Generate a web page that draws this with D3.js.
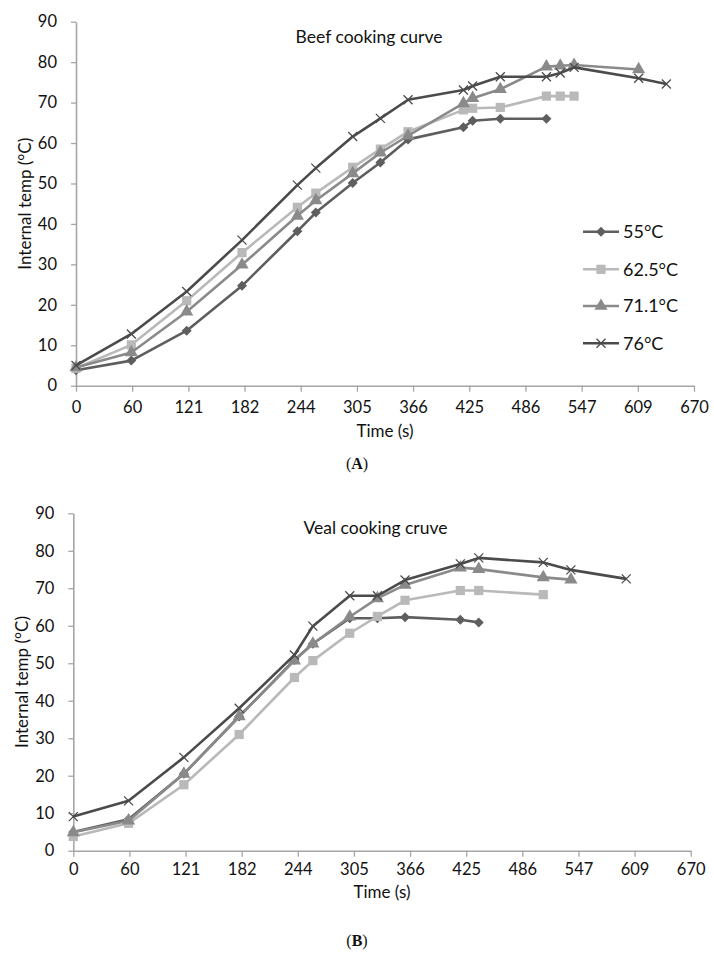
<!DOCTYPE html>
<html><head><meta charset="utf-8">
<script src="https://cdn.jsdelivr.net/npm/d3@7"></script>
<style>
html,body{margin:0;padding:0;background:#fff;}
svg{display:block;}
text{font-family:Lato,"Open Sans",sans-serif;fill:#111;}
</style></head>
<body>
<svg id="c" width="714" height="959"></svg>
<script>
// ---- Data ----
const seriesNames = ["55°C", "62.5°C", "71.1°C", "76°C"];
const xTickLabels = [0, 60, 121, 182, 244, 305, 366, 425, 486, 547, 609, 670];
const yTickLabels = [0, 10, 20, 30, 40, 50, 60, 70, 80, 90];

// Beef (A)
const beefTime55 = [0,60,120,180,240,260,300,330,360,420,430,460,510];
const beefTemp55 = [3.8,6.2,13.6,24.7,38.2,42.8,50.1,55.2,60.9,63.9,65.5,66.0,66.0];
const beefTime62 = [0,60,120,180,240,260,300,330,360,420,430,460,510,525,540];
const beefTemp62 = [4.3,10.1,21.0,32.9,44.1,47.6,54.0,58.5,62.8,68.2,68.6,68.8,71.6,71.6,71.6];
const beefTime71 = [0,60,120,180,240,260,300,330,360,420,430,460,510,525,540,610];
const beefTemp71 = [4.5,8.2,18.3,29.9,42.0,45.8,52.5,57.6,61.8,69.8,71.1,73.3,78.9,79.1,79.3,78.2];
const beefTime76 = [0,60,120,180,240,260,300,330,360,420,430,460,510,525,540,610,640];
const beefTemp76 = [5.0,12.8,23.3,36.0,49.6,53.8,61.6,66.1,70.7,73.1,74.1,76.4,76.4,77.3,78.7,76.0,74.6];

// Veal (B)
const vealTime55 = [0,60,120,180,240,260,300,330,360,420,440];
const vealTemp55 = [5.0,8.4,20.5,35.8,50.9,55.2,62.0,62.0,62.3,61.6,60.9];
const vealTime62 = [0,60,120,180,240,260,300,330,360,420,440,510];
const vealTemp62 = [3.8,7.3,17.6,31.0,46.2,50.7,58.0,62.5,66.8,69.4,69.4,68.3];
const vealTime71 = [0,60,120,180,240,260,300,330,360,420,440,510,540];
const vealTemp71 = [4.9,8.0,20.5,35.8,50.7,55.2,62.4,67.3,70.9,75.5,75.1,72.9,72.3];
const vealTime76 = [0,60,120,180,240,260,300,330,360,420,440,510,540,600];
const vealTemp76 = [9.1,13.3,24.9,38.0,52.2,59.9,68.0,68.0,72.2,76.5,78.1,76.9,74.9,72.5];

// ---- Styles ----
const colors = ["#5e5e5e", "#b9b9b9", "#8a8a8a", "#4b4b4b"];
const markers = ["diamond", "square", "triangle", "x"];

const svg = d3.select("#c");

function zip(t, v){ return t.map((d,i)=>({t:d, v:v[i]})); }

function drawMarker(g, type, x, y, color){
  if(type === "x"){
    const s = 4.5;
    g.append("path").attr("d", `M${x-s},${y-s}L${x+s},${y+s}M${x-s},${y+s}L${x+s},${y-s}`)
      .attr("stroke", color).attr("stroke-width", 1.3).attr("fill","none");
  } else if(type === "diamond"){
    const s = 5;
    g.append("path").attr("d", `M${x},${y-s}L${x+s},${y}L${x},${y+s}L${x-s},${y}Z`).attr("fill", color);
  } else {
    const sym = type === "square" ? d3.symbolSquare : d3.symbolTriangle;
    const size = type === "square" ? 85 : 75;
    g.append("path").attr("d", d3.symbol(sym, size)())
      .attr("transform", `translate(${x},${y})`).attr("fill", color);
  }
}

function drawChart(cfg){
  const x = d3.scaleLinear().domain([0, 670]).range([cfg.left, cfg.right]);
  const y = d3.scaleLinear().domain([0, 90]).range([cfg.bottom, cfg.top]);
  const g = svg.append("g");

  // axes
  const xAxis = d3.axisBottom(x).tickValues(xTickLabels.map((d,i)=>i*670/11))
    .tickFormat((d,i)=>xTickLabels[i]).tickSize(6).tickPadding(cfg.xPad).tickSizeOuter(0);
  const xa = g.append("g").attr("transform", `translate(0,${cfg.bottom})`).call(xAxis);
  const yAxis = d3.axisLeft(y).tickValues(yTickLabels).tickSize(5).tickPadding(14).tickSizeOuter(0);
  const ya = g.append("g").attr("transform", `translate(${cfg.left},0)`).call(yAxis);
  [xa, ya].forEach(a=>{
    a.select(".domain").attr("stroke", "#a6a6a6").attr("stroke-width", 1.6);
    a.selectAll(".tick line").attr("stroke", "#a6a6a6").attr("stroke-width", 1.3);
    a.selectAll(".tick text").attr("font-family","Lato").attr("font-size", 16.5).attr("fill","#111");
  });

  // series
  cfg.series.forEach((s, i)=>{
    const data = zip(s.t, s.v);
    const line = d3.line().x(d=>x(d.t)).y(d=>y(d.v));
    g.append("path").datum(data).attr("d", line).attr("fill","none")
      .attr("stroke", colors[i]).attr("stroke-width", 2.6).attr("stroke-linejoin","round");
    const mg = g.append("g");
    data.forEach(d=>drawMarker(mg, markers[i], x(d.t), y(d.v), colors[i]));
  });

  // titles
  g.append("text").attr("x", cfg.titleX).attr("y", cfg.top + 21).attr("text-anchor","middle")
    .attr("font-size", 17.5).text(cfg.title);
  g.append("text").attr("x", (cfg.left+cfg.right)/2).attr("y", cfg.bottom + cfg.xTitleDy)
    .attr("text-anchor","middle").attr("font-size", 17).text("Time (s)");
  g.append("text").attr("transform", `translate(${cfg.left-45},${(cfg.top+cfg.bottom)/2}) rotate(-90)`)
    .attr("text-anchor","middle").attr("font-size", 17).text("Internal temp (°C)");
  const pl = g.append("text").attr("x", 357).attr("y", cfg.panelY).attr("text-anchor","middle")
    .attr("font-size", 16);
  pl.append("tspan").text("(");
  pl.append("tspan").attr("font-weight","bold").text(cfg.panel);
  pl.append("tspan").text(")");
  pl.selectAll("tspan").attr("style","font-family:'Liberation Serif',serif");

  if(cfg.legend){
    const lg = g.append("g");
    const rows = [231.7, 269.3, 306, 343.3];
    seriesNames.forEach((n, i)=>{
      lg.append("line").attr("x1", 583).attr("x2", 619).attr("y1", rows[i]).attr("y2", rows[i])
        .attr("stroke", colors[i]).attr("stroke-width", 2.6);
      drawMarker(lg, markers[i], 601, rows[i], colors[i]);
      lg.append("text").attr("x", 623).attr("y", rows[i]).attr("dy","0.36em")
        .attr("font-size", 18).text(n);
    });
  }
}

drawChart({
  left: 76, right: 694, top: 21.7, bottom: 385.7, xPad: 10,
  title: "Beef cooking curve", titleX: 369, xTitleDy: 51, panelY: 469, panel: "A", legend: true,
  series: [
    {t: beefTime55, v: beefTemp55},
    {t: beefTime62, v: beefTemp62},
    {t: beefTime71, v: beefTemp71},
    {t: beefTime76, v: beefTemp76}
  ]
});
drawChart({
  left: 73.3, right: 690.7, top: 513.3, bottom: 850.7, xPad: 7,
  title: "Veal cooking cruve", titleX: 375.5, xTitleDy: 47, panelY: 946, panel: "B", legend: false,
  series: [
    {t: vealTime55, v: vealTemp55},
    {t: vealTime62, v: vealTemp62},
    {t: vealTime71, v: vealTemp71},
    {t: vealTime76, v: vealTemp76}
  ]
});
</script>
</body></html>
